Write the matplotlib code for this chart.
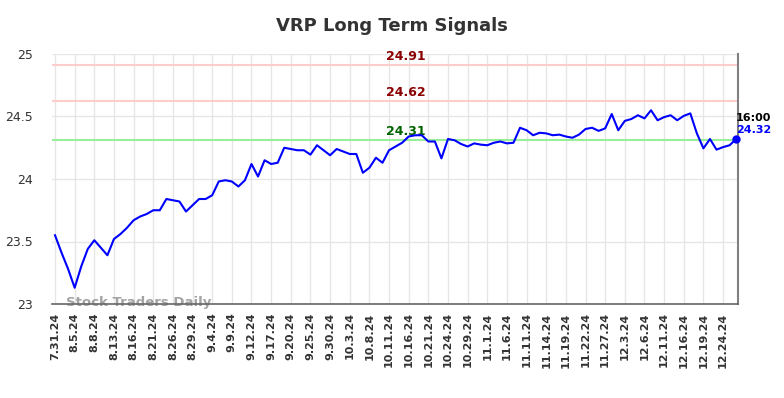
import matplotlib
matplotlib.use("Agg")
import matplotlib.pyplot as plt

values = [23.55, 23.41, 23.28, 23.13, 23.30, 23.44, 23.51, 23.45, 23.39, 23.52,
          23.56, 23.61, 23.67, 23.70, 23.72, 23.75, 23.75, 23.84, 23.83, 23.82,
          23.74, 23.79, 23.84, 23.84, 23.87, 23.98, 23.99, 23.98, 23.94, 23.99,
          24.12, 24.02, 24.15, 24.12, 24.13, 24.25, 24.24, 24.23, 24.23, 24.195,
          24.27, 24.23, 24.19, 24.24, 24.22, 24.20, 24.20, 24.05, 24.09, 24.17,
          24.13, 24.23, 24.26, 24.29, 24.34, 24.35, 24.35, 24.30, 24.30, 24.165,
          24.32, 24.31, 24.28, 24.26, 24.285, 24.275, 24.27, 24.29, 24.30, 24.285,
          24.29, 24.41, 24.39, 24.35, 24.37, 24.365, 24.35, 24.355, 24.34, 24.33,
          24.355, 24.40, 24.41, 24.385, 24.405, 24.52, 24.39, 24.465, 24.48, 24.51,
          24.485, 24.55, 24.47, 24.495, 24.51, 24.47, 24.505, 24.525, 24.365, 24.245,
          24.32, 24.235, 24.255, 24.27, 24.32]

tick_labels = ["7.31.24", "8.5.24", "8.8.24", "8.13.24", "8.16.24", "8.21.24", "8.26.24",
               "8.29.24", "9.4.24", "9.9.24", "9.12.24", "9.17.24", "9.20.24", "9.25.24",
               "9.30.24", "10.3.24", "10.8.24", "10.11.24", "10.16.24", "10.21.24",
               "10.24.24", "10.29.24", "11.1.24", "11.6.24", "11.11.24", "11.14.24",
               "11.19.24", "11.22.24", "11.27.24", "12.3.24", "12.6.24", "12.11.24",
               "12.16.24", "12.19.24", "12.24.24"]

levels = [24.91, 24.62, 24.31]
level_line_colors = ["#ffcccc", "#ffcccc", "#99ee99"]
level_text_colors = ["#8b0000", "#8b0000", "#006400"]

title = "VRP Long Term Signals"
last_time = "16:00"
last_value = 24.32

fig = plt.figure(figsize=(7.84, 3.98), dpi=100)
ax = fig.add_axes([52/784, (398-304)/398, 686/784, 250/398])

x = list(range(len(values)))
ax.set_xlim(-0.46, len(values) - 1 + 0.28)
ax.set_ylim(23, 25)

ax.set_xticks([i * 3 for i in range(len(tick_labels))])
ax.set_xticklabels(tick_labels, rotation=90, fontsize=8, fontweight="bold", color="#333333")
ax.set_yticks([23, 23.5, 24, 24.5, 25])
ax.set_yticklabels(["23", "23.5", "24", "24.5", "25"], fontsize=9, color="#333333")
ax.tick_params(axis="both", length=0)
ax.tick_params(axis="y", pad=14)
ax.tick_params(axis="x", pad=6)

ax.grid(True, color="#e6e6e6", linewidth=1)
ax.set_axisbelow(True)
for s in ["left", "top"]:
    ax.spines[s].set_visible(False)
ax.spines["bottom"].set_color("#666666")
ax.spines["bottom"].set_linewidth(1.2)
ax.spines["right"].set_color("#808080")
ax.spines["right"].set_linewidth(1.5)

for lv, lc, tc in zip(levels, level_line_colors, level_text_colors):
    ax.axhline(lv, color=lc, linewidth=1.5, zorder=1)
    ax.text(53.5, lv + 0.02, f"{lv:.2f}", color=tc, fontsize=9, fontweight="bold",
            ha="center", va="bottom", zorder=3)

ax.plot(x, values, color="#0000ff", linewidth=1.5, zorder=4)
ax.plot([x[-1]], [values[-1]], marker="o", color="#0000ff", markersize=5, zorder=5, clip_on=False)

ax.text(x[-1], last_value + 0.13, last_time, color="black", fontsize=8, fontweight="bold",
        ha="left", va="bottom", zorder=6)
ax.text(x[-1], last_value + 0.03, f"{last_value:.2f}", color="#0000ff", fontsize=8,
        fontweight="bold", ha="left", va="bottom", zorder=6)

ax.text(1.7, 23.01, "Stock Traders Daily", color="#999999", fontsize=9.5, fontweight="bold",
        ha="left", va="center", alpha=0.9, zorder=2)

fig.text(0.5, 1 - 26/398, title, ha="center", va="center", fontsize=13,
         fontweight="bold", color="#333333")

fig.savefig("out.png", dpi=100)
